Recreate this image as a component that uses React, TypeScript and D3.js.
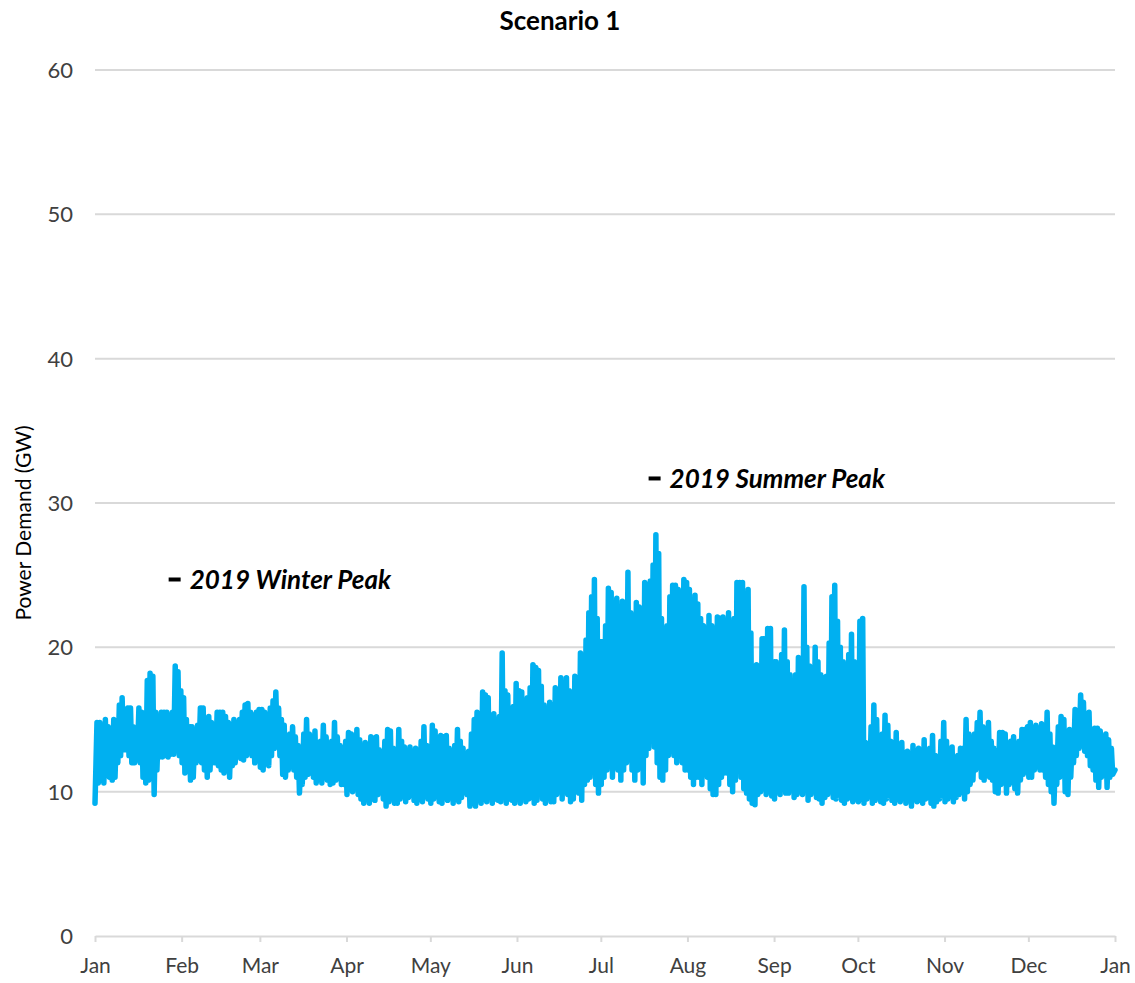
import React, { useEffect, useRef } from "react";
import * as d3 from "d3";

// daily peak / trough demand in GW, one row per month
const dailyHigh = [
  // Jan
  14.8, 14.8, 13.5, 15.0, 14.5, 14.0, 15.0, 14.5, 16.0, 16.5, 15.5, 15.8, 15.8, 14.5, 14.0, 15.8, 15.5, 15.0, 17.7, 18.2, 18.0, 15.5, 14.8, 15.5, 15.5, 15.5, 15.3, 15.5, 18.7, 18.3, 17.0,
  // Feb
  16.5, 15.0, 14.5, 14.5, 14.0, 14.6, 15.8, 15.8, 15.0, 15.2, 14.8, 14.6, 15.5, 15.5, 15.5, 15.2, 14.8, 14.5, 15.0, 14.6, 15.0, 15.5, 16.0, 16.1, 15.5, 15.0, 15.5, 15.7,
  // Mar
  15.7, 15.5, 15.2, 15.8, 16.3, 16.9, 15.8, 15.0, 14.6, 13.5, 14.0, 14.5, 13.8, 13.2, 12.5, 14.0, 15.0, 14.0, 13.5, 14.2, 13.0, 13.5, 14.6, 13.8, 13.0, 13.5, 14.8, 13.8, 13.2, 12.5, 13.5,
  // Apr
  14.1, 14.0, 13.2, 14.3, 13.6, 12.8, 13.4, 12.9, 13.8, 13.7, 13.8, 12.9, 12.5, 13.5, 14.3, 14.2, 13.0, 12.5, 14.3, 13.5, 13.1, 12.8, 13.1, 12.5, 13.0, 12.2, 13.5, 14.5, 13.2, 12.8,
  // May
  14.6, 14.2, 12.5, 13.9, 13.8, 13.9, 13.0, 12.5, 13.2, 14.3, 13.5, 13.0, 12.0, 12.8, 14.0, 15.0, 15.5, 15.0, 16.9, 16.7, 16.5, 15.0, 15.4, 14.5, 15.2, 19.6, 17.0, 16.7, 15.0, 15.9, 17.5,
  // Jun
  17.0, 16.9, 15.5, 16.5, 17.2, 18.8, 18.6, 18.4, 17.3, 16.0, 15.4, 16.2, 15.0, 17.2, 17.0, 17.9, 17.5, 17.9, 17.0, 16.8, 18.0, 17.5, 19.6, 19.3, 20.5, 22.4, 23.5, 24.7, 22.0, 20.4,
  // Jul
  20.4, 21.5, 24.1, 23.8, 21.0, 23.4, 22.0, 23.2, 20.0, 25.2, 22.4, 21.5, 23.1, 22.8, 21.0, 24.5, 24.3, 24.6, 25.7, 27.8, 26.5, 22.0, 20.7, 21.5, 23.5, 24.3, 24.3, 24.0, 22.5, 24.7, 24.5,
  // Aug
  24.0, 23.0, 23.6, 23.0, 22.0, 21.5, 21.0, 22.2, 21.5, 20.5, 22.1, 22.0, 22.1, 21.0, 22.4, 21.5, 22.0, 24.5, 24.5, 24.5, 22.5, 24.0, 21.0, 18.7, 18.8, 17.5, 20.6, 20.6, 21.3, 21.3, 19.0,
  // Sep
  19.0, 18.0, 19.5, 21.2, 19.0, 18.1, 17.0, 18.1, 19.3, 18.0, 24.2, 20.0, 18.7, 18.5, 20.0, 19.0, 18.1, 17.9, 18.0, 20.3, 23.5, 24.3, 21.8, 20.0, 19.0, 18.0, 19.5, 20.9, 19.0, 18.0,
  // Oct
  21.8, 22.0, 13.4, 13.0, 14.5, 16.0, 15.0, 13.4, 14.0, 15.3, 14.6, 13.5, 13.0, 14.1, 13.0, 13.4, 12.5, 12.8, 12.5, 13.2, 12.8, 13.0, 12.5, 13.6, 12.5, 13.0, 13.9, 12.5, 12.0, 13.5, 14.8,
  // Nov
  13.5, 12.8, 13.1, 12.0, 12.5, 13.0, 13.0, 15.0, 14.0, 13.0, 14.0, 14.8, 15.5, 14.5, 13.5, 14.8, 13.5, 13.0, 12.5, 14.1, 14.1, 14.0, 13.0, 13.5, 13.8, 12.5, 13.5, 14.3, 14.3, 14.5,
  // Dec
  14.8, 14.0, 14.6, 14.2, 14.7, 14.3, 15.5, 14.0, 13.1, 12.5, 14.5, 15.2, 15.0, 13.5, 14.3, 13.8, 15.7, 15.5, 16.7, 16.2, 15.0, 15.5, 14.0, 14.4, 14.4, 14.2, 13.5, 14.0, 13.6, 13.0, 11.5,
];

const dailyLow = [
  // Jan
  9.2, 10.6, 10.8, 10.6, 11.5, 11.0, 10.8, 11.0, 12.0, 12.5, 12.9, 12.9, 12.5, 12.0, 12.0, 12.3, 12.0, 11.0, 10.6, 10.8, 12.0, 9.8, 11.5, 12.4, 12.4, 12.5, 12.4, 12.6, 12.6, 13.0, 12.5,
  // Feb
  12.0, 11.3, 11.5, 10.8, 11.0, 12.0, 12.2, 12.0, 11.5, 11.0, 11.5, 12.0, 12.0, 11.8, 11.5, 11.3, 11.5, 11.0, 11.8, 12.0, 12.5, 12.3, 12.2, 12.5, 12.7, 12.5, 12.0, 12.2,
  // Mar
  11.7, 11.5, 12.0, 11.8, 12.5, 13.0, 13.6, 12.5, 11.2, 11.0, 11.5, 12.0, 11.5, 11.0, 9.9, 10.5, 11.0, 11.2, 11.3, 11.0, 10.6, 11.0, 10.6, 11.0, 10.8, 10.5, 10.6, 10.8, 11.0, 10.5, 10.5,
  // Apr
  9.8, 10.2, 10.0, 10.5, 9.8, 9.5, 9.2, 9.6, 9.2, 9.5, 9.4, 9.8, 10.0, 9.5, 9.0, 9.3, 9.8, 9.2, 9.2, 9.5, 9.8, 9.3, 9.6, 9.9, 9.4, 9.2, 9.5, 9.3, 9.8, 9.5,
  // May
  9.2, 9.5, 9.8, 9.3, 9.2, 9.6, 9.4, 9.8, 9.2, 9.5, 9.3, 9.6, 10.0, 9.8, 9.0, 9.2, 9.0, 9.4, 9.2, 9.5, 9.3, 9.6, 9.2, 9.5, 9.4, 9.3, 9.6, 9.2, 9.5, 9.4, 9.2,
  // Jun
  9.5, 9.2, 9.8, 9.3, 9.5, 9.6, 9.2, 9.4, 9.8, 9.5, 9.2, 9.6, 9.3, 9.3, 9.8, 10.0, 9.5, 10.2, 9.8, 9.3, 9.5, 10.0, 9.9, 9.4, 10.5, 10.8, 11.0, 11.5, 10.5, 9.9,
  // Jul
  10.5, 11.0, 11.5, 12.0, 11.0, 12.5, 11.5, 10.8, 11.5, 12.0, 12.5, 11.5, 10.8, 11.5, 12.0, 10.6, 12.5, 13.0, 13.5, 13.1, 12.0, 11.0, 10.8, 11.5, 12.5, 12.8, 12.5, 12.0, 12.7, 12.0, 11.5,
  // Aug
  11.5, 11.0, 10.5, 11.0, 11.0, 10.5, 11.5, 11.0, 10.2, 9.8, 9.8, 10.5, 11.0, 11.3, 11.3, 10.5, 10.0, 10.8, 11.5, 11.0, 10.2, 9.9, 9.5, 9.2, 9.1, 9.8, 10.0, 10.2, 9.8, 10.0, 9.7,
  // Sep
  9.5, 10.0, 9.8, 10.2, 9.9, 9.9, 10.2, 9.6, 9.8, 10.0, 9.8, 10.2, 9.4, 9.8, 10.0, 9.6, 9.5, 9.2, 9.6, 9.8, 10.0, 9.6, 9.5, 9.8, 9.4, 9.2, 9.5, 9.6, 9.3, 9.5,
  // Oct
  9.3, 9.5, 9.2, 9.5, 9.8, 9.2, 9.4, 9.6, 9.3, 9.2, 9.5, 9.8, 9.4, 9.2, 9.5, 9.3, 9.6, 9.2, 9.4, 9.0, 9.5, 9.3, 9.4, 9.2, 9.5, 9.6, 9.2, 9.0, 9.3, 9.5, 9.8,
  // Nov
  9.3, 9.5, 9.8, 9.3, 9.6, 9.8, 10.2, 9.5, 10.0, 10.5, 10.8, 11.5, 12.0, 11.0, 10.8, 11.5, 11.0, 10.8, 10.0, 9.9, 10.5, 10.8, 9.9, 10.5, 11.0, 10.2, 9.9, 10.8, 11.2, 11.5,
  // Dec
  11.0, 11.0, 11.5, 11.8, 11.5, 11.5, 11.0, 10.5, 10.0, 9.2, 10.5, 11.0, 11.5, 10.0, 9.8, 11.0, 12.0, 12.5, 13.0, 13.4, 12.8, 12.5, 11.8, 11.5, 10.8, 10.3, 11.0, 11.5, 10.3, 11.0, 11.2,
];

const yTicks = [0, 10, 20, 30, 40, 50, 60];

const peakLabels = ["2019 Winter Peak", "2019 Summer Peak"];
const peakDates = [new Date(Date.UTC(2019, 0, 29, 12)), new Date(Date.UTC(2019, 6, 20, 6))];
const peakValues = [24.7, 31.7];

const width = 1135;
const height = 983;
const margin = { top: 70, right: 20, bottom: 47, left: 95 };
const font = "Lato, 'Open Sans', sans-serif";
const blue = "#00B0F0";

type Pt = { t: Date; v: number };

export default function App() {
  const gx = useRef<SVGGElement>(null);

  const start = new Date(Date.UTC(2019, 0, 1));
  const end = new Date(Date.UTC(2020, 0, 1));
  const x = d3.scaleUtc([start, end], [margin.left, width - margin.right]);
  const y = d3.scaleLinear([0, 60], [height - margin.bottom, margin.top]);

  // each day: overnight trough then afternoon peak
  const points: Pt[] = [];
  dailyHigh.forEach((h, i) => {
    points.push({ t: d3.utcHour.offset(start, i * 24 + 4), v: dailyLow[i] });
    points.push({ t: d3.utcHour.offset(start, i * 24 + 17), v: h });
  });
  points[0].t = start;
  points[points.length - 1].t = end;

  const line = d3.line<Pt>((d) => x(d.t), (d) => y(d.v));

  useEffect(() => {
    const g = d3.select(gx.current!);
    g.call(
      d3.axisBottom(x)
        .tickValues([...d3.utcMonth.range(start, end), end])
        .tickFormat(d3.utcFormat("%b") as any)
        .tickSize(6)
        .tickSizeOuter(0)
    );
    g.select(".domain").attr("stroke", "#d9d9d9").attr("stroke-width", 2);
    g.selectAll(".tick line").attr("stroke", "#d9d9d9").attr("stroke-width", 2);
    g.selectAll(".tick text")
      .attr("font-family", font)
      .attr("font-size", 21)
      .attr("fill", "#404040")
      .attr("y", 20)
      .attr("dy", "0.8em");
  }, []);

  return (
    <svg width={width} height={height} style={{ position: "absolute", left: 0, top: 0, background: "#fff" }}>
      <text x={560} y={30} textAnchor="middle" fontFamily={font} fontWeight="bold" fontSize={26} fill="#000">
        Scenario 1
      </text>
      {yTicks.slice(1).map((t) => (
        <line key={t} x1={margin.left} x2={width - margin.right} y1={y(t)} y2={y(t)} stroke="#d9d9d9" strokeWidth={2} />
      ))}
      {yTicks.map((t) => (
        <text key={t} x={73} y={y(t)} dy="0.36em" textAnchor="end" fontFamily={font} fontSize={22} fill="#404040">
          {t}
        </text>
      ))}
      <text
        transform={`translate(31,${(y(0) + y(60)) / 2 + 20}) rotate(-90)`}
        textAnchor="middle"
        fontFamily={font}
        fontSize={21}
        fill="#000"
      >
        Power Demand (GW)
      </text>
      <g ref={gx} transform={`translate(0,${y(0)})`} />
      <path
        d={line(points)!}
        fill="none"
        stroke={blue}
        strokeWidth={5.5}
        strokeLinejoin="round"
        strokeLinecap="round"
      />
      {peakLabels.map((label, i) => (
        <g key={label}>
          <line
            x1={x(peakDates[i]) - 6}
            x2={x(peakDates[i]) + 6}
            y1={y(peakValues[i])}
            y2={y(peakValues[i])}
            stroke="#000"
            strokeWidth={4}
          />
          <text
            x={x(peakDates[i]) + 15}
            y={y(peakValues[i])}
            dy="0.36em"
            fontFamily={font}
            fontWeight="bold"
            fontStyle="italic"
            fontSize={26}
            fill="#000"
          >
            {label}
          </text>
        </g>
      ))}
    </svg>
  );
}
